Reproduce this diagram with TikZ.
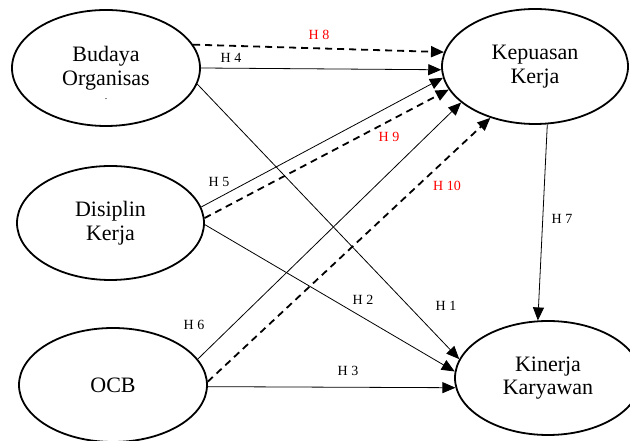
\documentclass[tikz,border=0pt]{standalone}
\usepackage{fontspec}
\setmainfont{Liberation Serif}
\usetikzlibrary{arrows.meta,shapes.geometric}
\begin{document}
\begin{tikzpicture}[x=1pt,y=1pt,
  var/.style={ellipse, draw, line width=1.8pt, inner sep=0pt, align=center,
    font=\fontsize{22}{23.5}\selectfont},
  conn/.style={line width=0.8pt, -{Triangle[length=13pt,width=11pt]}},
  dconn/.style={line width=1.8pt, dash pattern=on 7pt off 5pt, -{Triangle[length=13pt,width=11pt]}},
  lab/.style={font=\fontsize{14}{16}\selectfont, inner sep=0pt},
  rlab/.style={lab, text=red}]
\fill[white] (0,0) rectangle (630,441);
\useasboundingbox (0,0) rectangle (630,441);

\node[var, minimum width=188pt, minimum height=116pt] (bo) at (106,373) {Budaya\\Organisas};
\node[font=\fontsize{10}{12}\selectfont, inner sep=0pt] (bodot) at (106,342) {.};
\node[var, minimum width=186pt, minimum height=115pt] (kp) at (535,374.5) {Kepuasan\\Kerja};
\node[var, minimum width=187pt, minimum height=114pt] (dk) at (110.5,218) {Disiplin\\Kerja};
\node[var, minimum width=188pt, minimum height=114pt] (ocb) at (113,56) {OCB};
\node[var, minimum width=186pt, minimum height=114pt] (kk) at (548,63) {Kinerja\\Karyawan};

\draw[dconn] (bo.15) -- (kp.171.7);
\draw[conn] (bo.0) -- (kp.182);
\draw[conn] (bo.-10) -- (kk.168);
\draw[conn] (dk.10.4) -- (kp.187);
\draw[dconn] (dk.3) -- (kp.195);
\draw[conn] (dk.-1) -- (kk.176);
\draw[conn] (ocb.17) -- (kp.206.6);
\draw[dconn] (ocb.2) -- (kp.229);
\draw[conn] (ocb.-1) -- (kk.186);
\draw[conn] (kp.-78) -- (kk.100);

\node[rlab] (l8) at (319,406) {H 8};
\node[lab] (l4) at (231,383) {H 4};
\node[rlab] (l9) at (389,304) {H 9};
\node[lab] (l5) at (219,259) {H 5};
\node[rlab] (l10) at (447,255) {H 10};
\node[lab] (l7) at (562,222) {H 7};
\node[lab] (l2) at (363,141) {H 2};
\node[lab] (l1) at (446,135) {H 1};
\node[lab] (l6) at (194,116) {H 6};
\node[lab] (l3) at (348,70) {H 3};
\end{tikzpicture}
\end{document}
